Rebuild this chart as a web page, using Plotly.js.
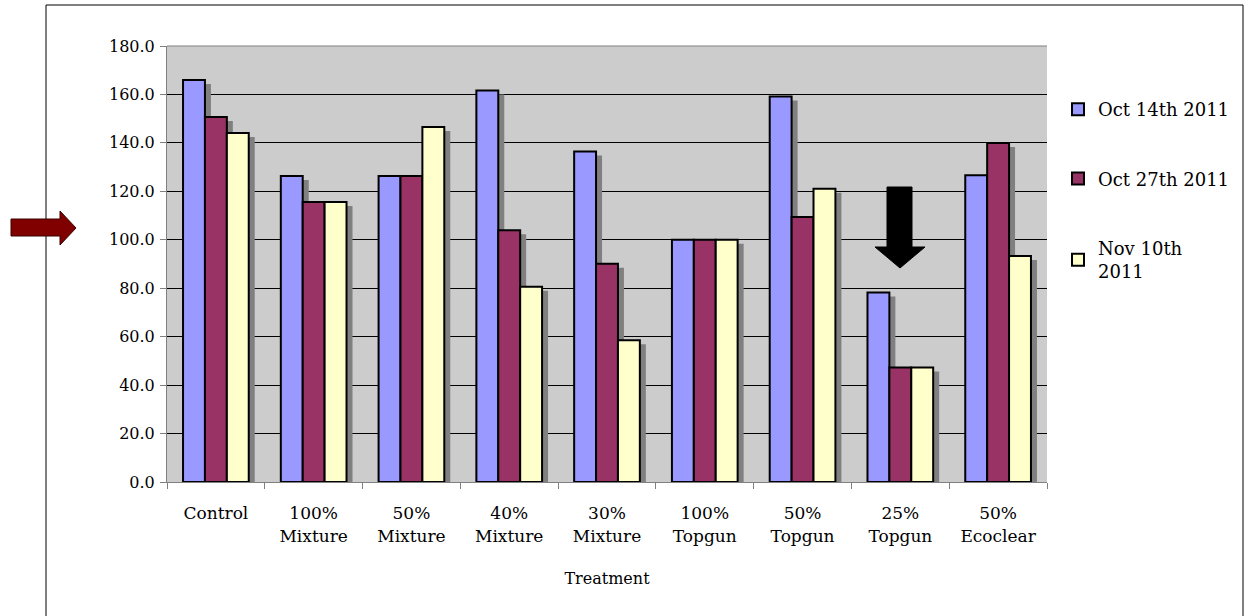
<!DOCTYPE html>
<html>
<head>
<meta charset="utf-8">
<script src="https://cdn.plot.ly/plotly-3.0.1.min.js"></script>
<style>
  html, body { margin: 0; padding: 0; background: #ffffff; }
  #chart { width: 1244px; height: 616px; }
</style>
</head>
<body>
<div id="chart"></div>
<script>
// ---- data ----
var categories = ["Control", "100%<br>Mixture", "50%<br>Mixture", "40%<br>Mixture", "30%<br>Mixture",
                  "100%<br>Topgun", "50%<br>Topgun", "25%<br>Topgun", "50%<br>Ecoclear"];
var oct14 = [166.0, 126.3, 126.3, 161.6, 136.4, 100.0, 159.2, 78.2, 126.6];
var oct27 = [150.7, 115.6, 126.3, 103.9, 90.1, 100.0, 109.4, 47.3, 140.0];
var nov10 = [144.1, 115.6, 146.6, 80.6, 58.5, 100.0, 121.1, 47.3, 93.3];
var seriesNames = ["Oct 14th 2011", "Oct 27th 2011", "Nov 10th<br>2011"];
var seriesColors = ["#9999FF", "#993366", "#FFFFCC"];
var yTicks = [0, 20, 40, 60, 80, 100, 120, 140, 160, 180];

// ---- geometry (pixels) ----
var L = 167, R = 1047, T = 46, B = 482, W = 1244, H = 616;
var pxPerCat = (R - L) / categories.length;
var pxPerUnit = (B - T) / 180;
var barW = 21.9 / pxPerCat;
var shX = 6 / pxPerCat;       // shadow shift right
var shY = 4 / pxPerUnit;      // shadow shift down
function X(px) { return (px - L) / (R - L); }
function Y(py) { return (B - py) / (B - T); }

var allSeries = [oct14, oct27, nov10];
var traces = [];
// shadows first
allSeries.forEach(function (vals, i) {
  traces.push({
    type: "bar", x: categories,
    y: vals.map(function (v) { return Math.max(0, v - shY); }),
    offset: (i - 1.5) * barW + shX, width: barW,
    marker: { color: "#808080", line: { width: 0 } },
    showlegend: false, hoverinfo: "skip"
  });
});
allSeries.forEach(function (vals, i) {
  traces.push({
    type: "bar", x: categories, y: vals, name: seriesNames[i],
    legendgroup: "g" + i,
    offset: (i - 1.5) * barW, width: barW,
    marker: { color: seriesColors[i], line: { color: "#000000", width: 2 } }
  });
});

function pathFromPx(pts) {
  return "M" + pts.map(function (p) { return X(p[0]) + "," + Y(p[1]); }).join(" L") + " Z";
}

var redArrow = pathFromPx([[11, 219], [60, 219], [60, 211], [76, 228], [60, 245], [60, 236], [11, 236]]);
var blackArrow = pathFromPx([[887, 187], [912, 187], [912, 247], [925, 247], [900, 268], [875, 247], [887, 247]]);

var serif = "DejaVu Serif";

var layout = {
  width: W, height: H,
  margin: { l: L, r: W - R, t: T, b: H - B, pad: 0, autoexpand: false },
  paper_bgcolor: "#ffffff",
  plot_bgcolor: "#CCCCCC",
  barmode: "overlay",
  font: { family: serif, color: "#000000", size: 16 },
  xaxis: {
    type: "category",
    tickson: "boundaries",
    ticks: "outside", ticklen: 6, tickcolor: "#808080", tickwidth: 1,
    showline: true, linecolor: "#808080", linewidth: 1,
    showgrid: false, zeroline: false,
    tickfont: { family: serif, size: 17 },
    ticklabelstandoff: 16,
    automargin: false,
    title: { text: "Treatment", font: { family: serif, size: 16 }, standoff: 28 },
    fixedrange: true
  },
  yaxis: {
    range: [0, 180],
    tickvals: yTicks,
    tickformat: ".1f",
    ticks: "outside", ticklen: 6, tickcolor: "#808080", tickwidth: 1,
    showline: true, linecolor: "#808080", linewidth: 1,
    showgrid: true, gridcolor: "#000000", gridwidth: 1,
    zeroline: false,
    tickfont: { family: serif, size: 16 },
    ticklabelstandoff: 2,
    automargin: false,
    fixedrange: true
  },
  legend: {
    x: X(1058), xanchor: "left",
    y: Y(91), yanchor: "top",
    traceorder: "grouped",
    tracegroupgap: 43,
    font: { family: serif, size: 18 },
    bgcolor: "rgba(0,0,0,0)",
    borderwidth: 0
  },
  shapes: [
    { type: "rect", xref: "paper", yref: "paper", x0: X(46), x1: X(1243), y0: Y(5), y1: Y(640),
      line: { color: "#000000", width: 1 }, fillcolor: "rgba(0,0,0,0)", layer: "below" },
    { type: "line", xref: "paper", yref: "paper", x0: 0, x1: 1, y0: 1, y1: 1,
      line: { color: "#808080", width: 1 } },
    { type: "path", xref: "paper", yref: "paper", path: redArrow,
      fillcolor: "#800000", line: { color: "#3a0000", width: 1 } },
    { type: "path", xref: "paper", yref: "paper", path: blackArrow,
      fillcolor: "#000000", line: { color: "#000000", width: 1 } }
  ]
};

Plotly.newPlot("chart", traces, layout, { displayModeBar: false, staticPlot: true });
</script>
</body>
</html>
